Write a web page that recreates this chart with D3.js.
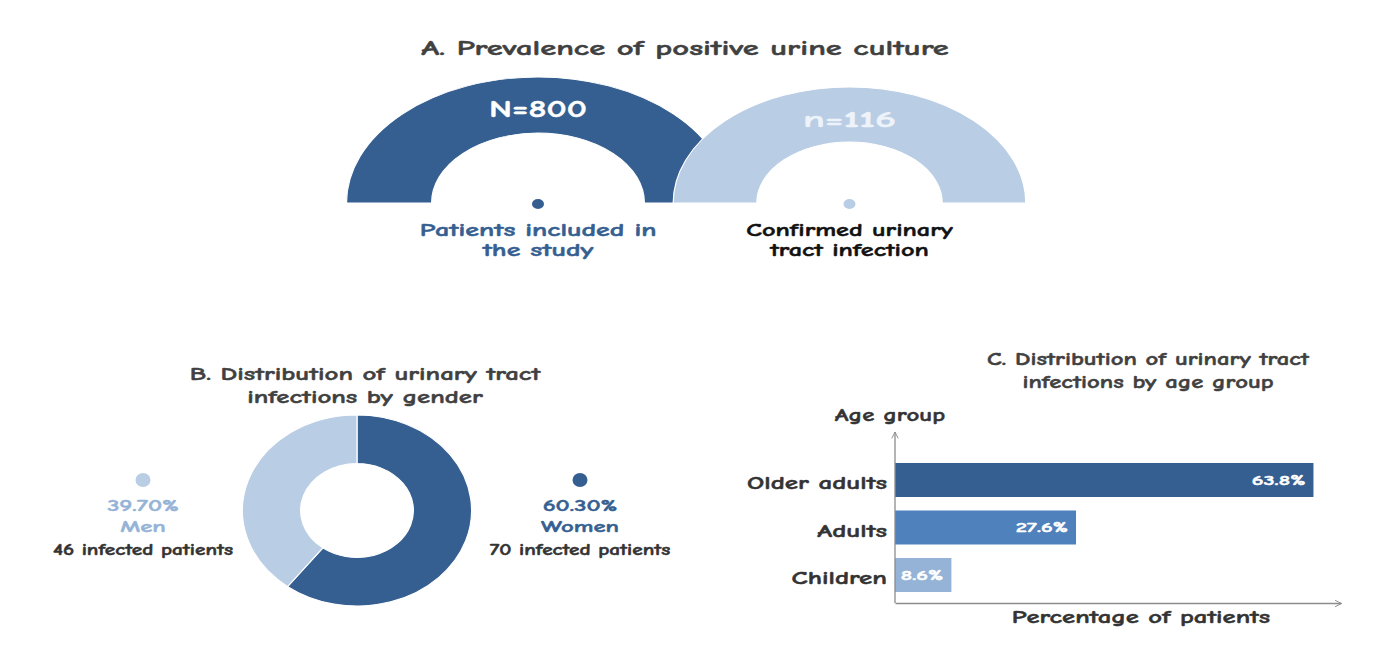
<!DOCTYPE html>
<html>
<head>
<meta charset="utf-8">
<title>Urinary tract infections</title>
<style>
    body { margin: 0; background: #fff; }
    svg text {
        font-family: "Comic Sans MS", "Comic Neue", "DejaVu Sans", sans-serif;
        font-weight: bold;
        stroke-width: 0.45px;
    }
    .axis path { stroke: #8c8c8c; stroke-width: 1.3px; }
</style>
</head>
<body>
<svg id="chart" width="1376" height="654"></svg>
<script src="https://cdn.jsdelivr.net/npm/d3@7"></script>
<script>
    // panel A
    const studyCounts = ["N=800", "n=116"]
    const studyLabels = [["Patients included in", "the study"], ["Confirmed urinary", "tract infection"]]

    // panel B
    const genders = ["Women", "Men"]
    const genderPatients = [70, 46]
    const genderPct = ["60.30%", "39.70%"]

    // panel C
    const ageGroups = ["Older adults", "Adults", "Children"]
    const agePct = [63.8, 27.6, 8.6]

    const dark = "#365f91", light = "#b9cde5", mid = "#4f81bd", pale = "#95b3d7"

    let svg = d3.select("#chart")

    // text is stretched sideways like in the original picture
    function label(parent, x, y, str, size, sx, color, anchor) {
        return parent.append("text")
            .attr("transform", `translate(${x},${y}) scale(${sx},1)`)
            .attr("text-anchor", anchor || "middle")
            .attr("fill", color).attr("stroke", color)
            .style("font-size", size + "px")
            .text(str)
    }

    // ---------- A. half rings ----------
    label(svg, 685, 55, "A. Prevalence of positive urine culture", 21, 1.55, "#404040")

    let halves = [
        { cx: 538, inner: 70, outer: 126, fill: dark, txt: "#ffffff", size: 24, sx: 1.47, dy: -86, labelColor: dark, lsx: 1.6 },
        { cx: 849.5, inner: 61, outer: 116, fill: light, txt: "#eef3f9", size: 23, sx: 1.75, dy: -76, labelColor: "#111", lsx: 1.5 }
    ]

    let halfArc = d3.arc().startAngle(-Math.PI / 2).endAngle(Math.PI / 2)

    halves.forEach((h, i) => {
        let g = svg.append("g").attr("transform", `translate(${h.cx},203)`)
        g.append("path")
            .attr("transform", "scale(1.52,1)")
            .attr("d", halfArc.innerRadius(h.inner).outerRadius(h.outer)())
            .attr("fill", h.fill)
            .attr("stroke", "#fff").attr("stroke-width", 0.8)
        label(g, 0, h.dy, studyCounts[i], h.size, h.sx, h.txt)
        g.append("ellipse").attr("cx", 0).attr("cy", 1)
            .attr("rx", 6).attr("ry", 5).attr("fill", h.fill)
        studyLabels[i].forEach((line, j) => {
            label(g, 0, 33 + j * 20, line, 17.5, h.lsx, h.labelColor)
        })
    })

    // ---------- B. donut ----------
    label(svg, 365, 380, "B. Distribution of urinary tract", 18.5, 1.45, "#404040")
    label(svg, 365, 403, "infections by gender", 18.5, 1.45, "#404040")

    let genderData = genders.map((g, i) => ({ name: g, count: genderPatients[i], pct: genderPct[i] }))
    let genderColor = d3.scaleOrdinal().domain(genders).range([dark, light])
    let genderText = d3.scaleOrdinal().domain(genders).range([dark, pale])

    let pie = d3.pie().sort(null).value(d => d.count)
    let donutArc = d3.arc().innerRadius(47).outerRadius(95.5)

    let donut = svg.append("g").attr("transform", "translate(357,510.5) scale(1.2,1)")
    donut.selectAll("path")
        .data(pie(genderData))
        .join("path")
        .attr("d", donutArc)
        .attr("fill", d => genderColor(d.data.name))
        .attr("stroke", "#fff").attr("stroke-width", 1)

    let legendX = d3.scaleOrdinal().domain(genders).range([580, 143])
    let legend = svg.selectAll(".legend")
        .data(genderData)
        .join("g")
        .attr("class", "legend")
        .attr("transform", d => `translate(${legendX(d.name)},0)`)
    legend.append("ellipse").attr("cx", 0).attr("cy", 480).attr("rx", 7.5).attr("ry", 7)
        .attr("fill", d => genderColor(d.name))
    legend.each(function (d) {
        let g = d3.select(this)
        label(g, 0, 511, d.pct, 16.5, 1.5, genderText(d.name))
        label(g, 0, 532, d.name, 16.5, 1.5, genderText(d.name))
        label(g, 0, 555, `${d.count} infected patients`, 15, 1.42, "#333")
    })

    // ---------- C. bars ----------
    label(svg, 1148, 365, "C. Distribution of urinary tract", 18, 1.37, "#404040")
    label(svg, 1148, 388, "infections by age group", 18, 1.37, "#404040")

    let defs = svg.append("defs")
    defs.append("marker").attr("id", "arrow")
        .attr("viewBox", "0 0 10 10").attr("refX", 9).attr("refY", 5)
        .attr("markerWidth", 8).attr("markerHeight", 8).attr("orient", "auto")
        .attr("markerUnits", "userSpaceOnUse")
        .append("path").attr("d", "M1,1 L9,5 L1,9")
        .attr("fill", "none").attr("stroke", "#8c8c8c").attr("stroke-width", 1.2)

    let barLeft = 895, barBase = 603
    let xScale = d3.scaleLinear().domain([0, 68]).range([barLeft, barLeft + 446])
    let yScale = d3.scaleBand().domain(ageGroups).range([432, barBase])
        .paddingInner(0.284).paddingOuter(0.442).align(0.738)
    let ageColor = d3.scaleOrdinal().domain(ageGroups).range([dark, mid, pale])

    svg.selectAll(".bar")
        .data(ageGroups)
        .join("rect")
        .attr("class", "bar")
        .attr("x", xScale(0))
        .attr("y", d => yScale(d))
        .attr("width", (d, i) => xScale(agePct[i]) - xScale(0))
        .attr("height", yScale.bandwidth())
        .attr("fill", d => ageColor(d))

    ageGroups.forEach((d, i) => {
        label(svg, xScale(agePct[i]) - 8, yScale(d) + yScale.bandwidth() / 2 + 5,
            agePct[i].toFixed(1) + "%", 14.5, 1.55, "#fff", "end")
    })

    let yAxis = svg.append("g").attr("class", "axis")
        .attr("transform", `translate(${barLeft},0)`)
        .call(d3.axisLeft(yScale).tickSize(0).tickSizeOuter(0).tickPadding(8))
    yAxis.select(".domain").attr("d", `M0,${barBase}V432`).attr("marker-end", "url(#arrow)")
    yAxis.selectAll(".tick text")
        .attr("x", -8 / 1.5)
        .attr("dy", "0.5em")
        .attr("transform", "scale(1.5,1)")
        .attr("fill", "#333").attr("stroke", "#333")
        .style("font-size", "18px")
        .style("font-family", null)

    let xAxis = svg.append("g").attr("class", "axis")
        .attr("transform", `translate(0,${barBase})`)
        .call(d3.axisBottom(xScale).ticks(0).tickSize(0).tickSizeOuter(0))
    xAxis.select(".domain").attr("marker-end", "url(#arrow)")
    xAxis.selectAll(".tick").remove()

    label(svg, 890, 421, "Age group", 18, 1.38, "#333")
    label(svg, 1141, 623, "Percentage of patients", 18, 1.48, "#333")
</script>
</body>
</html>
